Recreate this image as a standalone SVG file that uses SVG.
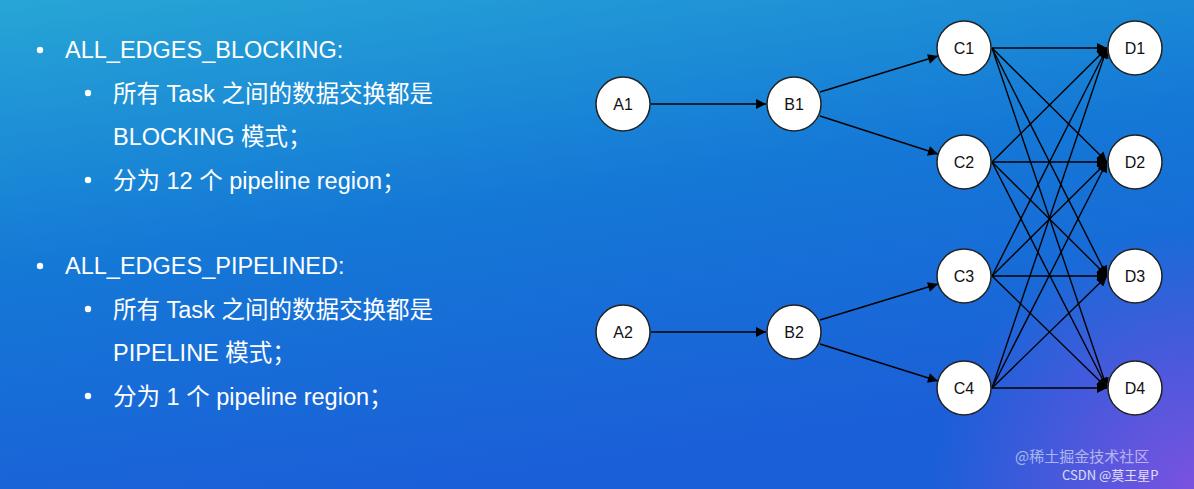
<svg xmlns="http://www.w3.org/2000/svg" width="1194" height="489" viewBox="0 0 1194 489">
<defs>
<linearGradient id="bg" x1="0" y1="0" x2="0.35" y2="1">
<stop offset="0" stop-color="#27a6d6"/>
<stop offset="0.5" stop-color="#1478d6"/>
<stop offset="1" stop-color="#1b5fd8"/>
</linearGradient>
<radialGradient id="pu" cx="1194" cy="489" r="260" gradientUnits="userSpaceOnUse">
<stop offset="0" stop-color="#7a52e0"/>
<stop offset="1" stop-color="#7a52e0" stop-opacity="0"/>
</radialGradient>
<marker id="ar" viewBox="0 0 10 10" refX="10" refY="5" markerWidth="11" markerHeight="10" orient="auto" markerUnits="userSpaceOnUse">
<path d="M0,0 L10,5 L0,10 z" fill="#000"/>
</marker>
<style>
.t{font-family:"Liberation Sans","Noto Sans CJK SC",sans-serif;font-size:23.5px;fill:#fff}
.n circle{fill:#fff;stroke:#222;stroke-width:1.5}
.n text{font-family:"Liberation Sans",sans-serif;font-size:16px;fill:#111;text-anchor:middle}
.e line{stroke:#000;stroke-width:1.4;marker-end:url(#ar)}
.w{font-family:"Noto Sans CJK SC",sans-serif;font-size:15px;fill:#fff;opacity:0.55}
</style>
</defs>
<rect width="1194" height="489" fill="url(#bg)"/>
<rect width="1194" height="489" fill="url(#pu)"/>
<g id="text">
<circle cx="40" cy="50" r="3.2" fill="#fff"/>
<text class="t" x="65" y="58">ALL_EDGES_BLOCKING:</text>
<circle cx="88" cy="93" r="3.2" fill="#fff"/>
<text class="t" x="113" y="102">所有 Task 之间的数据交换都是</text>
<text class="t" x="113" y="145">BLOCKING 模式；</text>
<circle cx="88" cy="180" r="3.2" fill="#fff"/>
<text class="t" x="113" y="189">分为 12 个 pipeline region；</text>
<circle cx="40" cy="266" r="3.2" fill="#fff"/>
<text class="t" x="65" y="274">ALL_EDGES_PIPELINED:</text>
<circle cx="88" cy="309" r="3.2" fill="#fff"/>
<text class="t" x="113" y="318">所有 Task 之间的数据交换都是</text>
<text class="t" x="113" y="361">PIPELINE 模式；</text>
<circle cx="88" cy="396" r="3.2" fill="#fff"/>
<text class="t" x="113" y="405">分为 1 个 pipeline region；</text>
</g>
<g id="connectors" class="e">
<line x1="651" y1="104" x2="766" y2="104"/>
<line x1="651" y1="332" x2="766" y2="332"/>
<line x1="820" y1="92" x2="938" y2="56"/>
<line x1="820" y1="116" x2="938" y2="154"/>
<line x1="820" y1="320" x2="938" y2="284"/>
<line x1="820" y1="344" x2="938" y2="381"/>
<line x1="992" y1="48" x2="1107" y2="48"/>
<line x1="992" y1="48" x2="1107" y2="162"/>
<line x1="992" y1="48" x2="1107" y2="276"/>
<line x1="992" y1="48" x2="1107" y2="388"/>
<line x1="992" y1="162" x2="1107" y2="48"/>
<line x1="992" y1="162" x2="1107" y2="162"/>
<line x1="992" y1="162" x2="1107" y2="276"/>
<line x1="992" y1="162" x2="1107" y2="388"/>
<line x1="992" y1="276" x2="1107" y2="48"/>
<line x1="992" y1="276" x2="1107" y2="162"/>
<line x1="992" y1="276" x2="1107" y2="276"/>
<line x1="992" y1="276" x2="1107" y2="388"/>
<line x1="992" y1="388" x2="1107" y2="48"/>
<line x1="992" y1="388" x2="1107" y2="162"/>
<line x1="992" y1="388" x2="1107" y2="276"/>
<line x1="992" y1="388" x2="1107" y2="388"/>
</g>
<g id="A1" class="n"><circle cx="623" cy="104" r="27"/><text x="623" y="110">A1</text></g>
<g id="B1" class="n"><circle cx="794" cy="104" r="27"/><text x="794" y="110">B1</text></g>
<g id="A2" class="n"><circle cx="623" cy="332" r="27"/><text x="623" y="338">A2</text></g>
<g id="B2" class="n"><circle cx="794" cy="332" r="27"/><text x="794" y="338">B2</text></g>
<g id="C1" class="n"><circle cx="964" cy="48" r="27"/><text x="964" y="54">C1</text></g>
<g id="C2" class="n"><circle cx="964" cy="162" r="27"/><text x="964" y="168">C2</text></g>
<g id="C3" class="n"><circle cx="964" cy="276" r="27"/><text x="964" y="282">C3</text></g>
<g id="C4" class="n"><circle cx="964" cy="388" r="27"/><text x="964" y="394">C4</text></g>
<g id="D1" class="n"><circle cx="1135" cy="48" r="27"/><text x="1135" y="54">D1</text></g>
<g id="D2" class="n"><circle cx="1135" cy="162" r="27"/><text x="1135" y="168">D2</text></g>
<g id="D3" class="n"><circle cx="1135" cy="276" r="27"/><text x="1135" y="282">D3</text></g>
<g id="D4" class="n"><circle cx="1135" cy="388" r="27"/><text x="1135" y="394">D4</text></g>
<text class="w" x="1015" y="462">@稀土掘金技术社区</text>
<text class="w" x="1062" y="480" style="font-size:13px;opacity:0.8">CSDN @莫王星P</text>
</svg>
